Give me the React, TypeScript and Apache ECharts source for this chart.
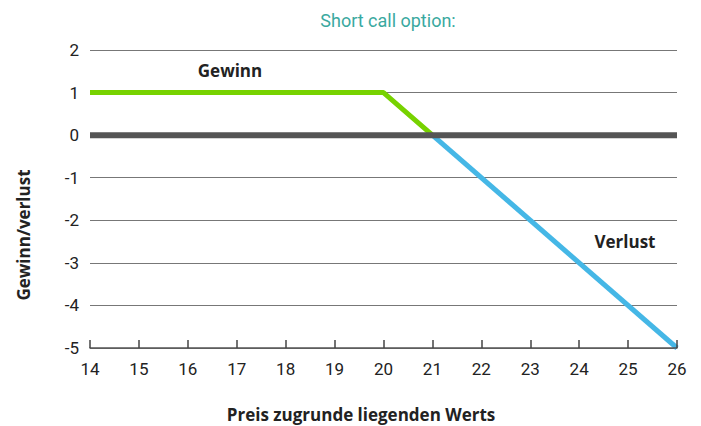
import React, { useEffect, useRef } from "react";
import * as echarts from "echarts";

const titleText = "Short call option:";
const xName = "Preis zugrunde liegenden Werts";
const yName = "Gewinn/verlust";
const gewinnData: [number, number][] = [[14, 1], [20, 1], [21, 0]];
const verlustData: [number, number][] = [[21, 0], [26, -5]];
const zeroData: [number, number][] = [[14, 0], [26, 0]];
const annotations = ["Gewinn", "Verlust"];

const FONT = "Roboto, 'DejaVu Sans', sans-serif";
const BOLD = "'Open Sans', Roboto, sans-serif";

export default function App() {
  const ref = useRef<HTMLDivElement>(null);
  useEffect(() => {
    if (!ref.current) return;
    const chart = echarts.init(ref.current, undefined, { renderer: "svg" });
    const boldText = (text: string, x: number, y: number, rotation = 0) => ({
      type: "text",
      x,
      y,
      rotation,
      style: {
        text,
        fill: "#222",
        font: `bold 17px ${BOLD}`,
        align: "center",
        verticalAlign: "middle",
      },
    });
    chart.setOption({
      animation: false,
      backgroundColor: "#ffffff",
      title: {
        text: titleText,
        left: 383,
        textAlign: "center",
        top: 6,
        textStyle: { color: "#3aa9a0", fontSize: 18, fontWeight: "normal", fontFamily: FONT },
      },
      grid: { left: 90, right: 24, top: 50, bottom: 78, containLabel: false, outerBoundsMode: "none" },
      xAxis: {
        type: "value",
        min: 14,
        max: 26,
        interval: 1,
        z: 5,
        axisLine: { show: true, onZero: false, lineStyle: { color: "#555", width: 1.5 } },
        axisTick: { show: true, inside: true, length: 8, lineStyle: { color: "#444", width: 1.5 } },
        axisLabel: { color: "#222", fontSize: 17, margin: 12, fontFamily: FONT },
        splitLine: { show: false },
      },
      yAxis: {
        type: "value",
        min: -5,
        max: 2,
        interval: 1,
        axisLine: { show: false },
        axisTick: { show: false },
        axisLabel: { color: "#222", fontSize: 17, margin: 11, fontFamily: FONT },
        splitLine: { show: true, lineStyle: { color: "#777", width: 1 } },
      },
      series: [
        {
          type: "line",
          data: gewinnData,
          symbol: "none",
          lineStyle: { color: "#77d200", width: 5 },
          z: 3,
        },
        {
          type: "line",
          data: verlustData,
          symbol: "none",
          lineStyle: { color: "#45b7e6", width: 5 },
          z: 3,
        },
        {
          type: "line",
          data: zeroData,
          symbol: "none",
          lineStyle: { color: "#555555", width: 6 },
          z: 4,
        },
      ],
      graphic: [
        boldText(annotations[0], 230, 70),
        boldText(annotations[1], 625, 241),
        boldText(xName, 361, 414),
        boldText(yName, 23, 235, Math.PI / 2),
      ],
    });
    return () => chart.dispose();
  }, []);
  return <div ref={ref} style={{ width: 701, height: 426, position: "absolute", left: 0, top: 0 }} />;
}
